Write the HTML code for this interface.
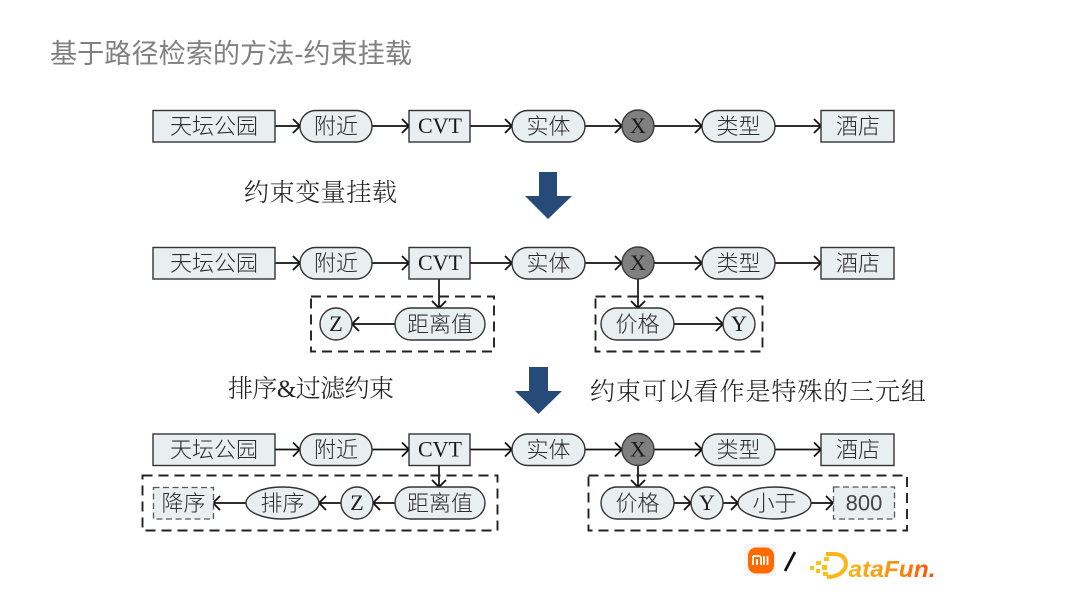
<!DOCTYPE html>
<html><head><meta charset="utf-8"><style>
html,body{margin:0;padding:0;background:#fff;width:1080px;height:608px;overflow:hidden}
svg{display:block}
.s{fill:#e9eef1;stroke:#333;stroke-width:1.4}
.l{stroke:#111;stroke-width:1.7;fill:none}
.h{stroke:#111;stroke-width:1.8;fill:none}
.d{fill:none;stroke:#222;stroke-width:1.9;stroke-dasharray:10 6}
.dn{fill:#e9eef1;stroke:#555;stroke-width:1.3;stroke-dasharray:6 3.5}
text{font-family:"Liberation Sans","Noto Sans CJK SC",sans-serif;fill:#2b2b2b;text-anchor:middle;font-size:22px;font-weight:300}
.e{font-family:"Liberation Serif",serif;font-size:22px;fill:#1a1a1a}
.t{font-family:"Liberation Serif","Noto Serif CJK SC",serif;font-size:25px;text-anchor:start;fill:#222}
</style></head><body>
<svg width="1080" height="608" viewBox="0 0 1080 608" xmlns="http://www.w3.org/2000/svg">
<defs>
<g id="ar"><path class="h" d="M-7 -7 L0 0 L-7 7"/></g>
<linearGradient id="df" x1="0" x2="1" y1="0" y2="0"><stop offset="0" stop-color="#fbb516"/><stop offset="0.55" stop-color="#fb8f10"/><stop offset="1" stop-color="#fb4a0a"/></linearGradient>
</defs>
<text x="50" y="63" textLength="362" lengthAdjust="spacingAndGlyphs" style="font-size:27px;text-anchor:start;fill:#808080;font-weight:400">基于路径检索的方法-约束挂载</text>

<!-- row 1 -->
<g>
<path class="l" d="M275 126H299M372 126H408M470 126H511M585 126H621M654 126H701M775 126H820"/>
<use href="#ar" x="300" y="126"/><use href="#ar" x="409" y="126"/><use href="#ar" x="512" y="126"/><use href="#ar" x="622" y="126"/><use href="#ar" x="702" y="126"/><use href="#ar" x="821" y="126"/>
<rect class="s" x="153" y="110.500" width="122" height="31.500"/>
<rect class="s" x="300" y="110.500" width="72" height="31.500" rx="15.700"/>
<rect class="s" x="409" y="110.500" width="61" height="31.500"/>
<rect class="s" x="512" y="110.500" width="73" height="31.500" rx="15.700"/>
<circle cx="638" cy="126" r="16" fill="#7f7f7f" stroke="#3a3a3a" stroke-width="1.4"/>
<rect class="s" x="702" y="110.500" width="73" height="31.500" rx="15.700"/>
<rect class="s" x="821" y="110.500" width="73" height="31.500"/>
<text x="214" y="134">天坛公园</text><text x="336" y="134">附近</text><text x="440" y="133" class="e">CVT</text><text x="548.500" y="134">实体</text><text x="638" y="133" class="e">X</text><text x="738.500" y="134">类型</text><text x="858" y="134">酒店</text>
</g>

<!-- row 2 -->
<g>
<path class="l" d="M275 263H299M372 263H408M470 263H511M585 263H621M654 263H701M775 263H820M439 279V307M638 279V307M395 324H353M674 324H722"/>
<use href="#ar" x="300" y="263"/><use href="#ar" x="409" y="263"/><use href="#ar" x="512" y="263"/><use href="#ar" x="622" y="263"/><use href="#ar" x="702" y="263"/><use href="#ar" x="821" y="263"/>
<use href="#ar" transform="translate(439 308) rotate(90)"/><use href="#ar" transform="translate(638 308) rotate(90)"/><use href="#ar" transform="translate(352 324) rotate(180)"/><use href="#ar" x="723" y="324"/>
<rect class="d" x="311" y="296.500" width="183" height="55"/>
<rect class="d" x="595.500" y="296.500" width="167" height="55"/>
<rect class="s" x="153" y="247.500" width="122" height="31.500"/>
<rect class="s" x="300" y="247.500" width="72" height="31.500" rx="15.700"/>
<rect class="s" x="409" y="247.500" width="61" height="31.500"/>
<rect class="s" x="512" y="247.500" width="73" height="31.500" rx="15.700"/>
<circle cx="638" cy="263" r="16" fill="#7f7f7f" stroke="#3a3a3a" stroke-width="1.4"/>
<rect class="s" x="702" y="247.500" width="73" height="31.500" rx="15.700"/>
<rect class="s" x="821" y="247.500" width="73" height="31.500"/>
<circle class="s" cx="336" cy="324" r="16"/>
<rect class="s" x="395" y="308" width="90" height="32" rx="16"/>
<rect class="s" x="601" y="308" width="73" height="32" rx="16"/>
<circle class="s" cx="739" cy="324" r="16"/>
<text x="214" y="271">天坛公园</text><text x="336" y="271">附近</text><text x="440" y="270" class="e">CVT</text><text x="548.500" y="271">实体</text><text x="638" y="270" class="e">X</text><text x="738.500" y="271">类型</text><text x="858" y="271">酒店</text>
<text x="336" y="331" class="e">Z</text><text x="440" y="332">距离值</text><text x="637.500" y="332">价格</text><text x="739" y="331" class="e">Y</text>
</g>

<!-- row 3 -->
<g>
<path class="l" d="M275 449.500H299M372 449.500H408M470 449.500H511M585 449.500H621M654 449.500H701M775 449.500H820M439 465V486M638 465V486M395 503H374M341 503H320M246 503H214M674 503H690M723 503H737M811 503H832"/>
<use href="#ar" x="300" y="449.500"/><use href="#ar" x="409" y="449.500"/><use href="#ar" x="512" y="449.500"/><use href="#ar" x="622" y="449.500"/><use href="#ar" x="702" y="449.500"/><use href="#ar" x="821" y="449.500"/>
<use href="#ar" transform="translate(439 487) rotate(90)"/><use href="#ar" transform="translate(638 487) rotate(90)"/>
<use href="#ar" transform="translate(373 503) rotate(180)"/><use href="#ar" transform="translate(319 503) rotate(180)"/><use href="#ar" transform="translate(213 503) rotate(180)"/>
<use href="#ar" x="691" y="503"/><use href="#ar" x="738" y="503"/><use href="#ar" x="833" y="503"/>
<rect class="d" x="142.500" y="475.500" width="355" height="55"/>
<rect class="d" x="588.500" y="475.500" width="318.500" height="55"/>
<rect class="s" x="153" y="434" width="122" height="31.500"/>
<rect class="s" x="300" y="434" width="72" height="31.500" rx="15.700"/>
<rect class="s" x="409" y="434" width="61" height="31.500"/>
<rect class="s" x="512" y="434" width="73" height="31.500" rx="15.700"/>
<circle cx="638" cy="449.500" r="16" fill="#7f7f7f" stroke="#3a3a3a" stroke-width="1.4"/>
<rect class="s" x="702" y="434" width="73" height="31.500" rx="15.700"/>
<rect class="s" x="821" y="434" width="73" height="31.500"/>
<rect class="dn" x="153.500" y="487.500" width="60" height="31.500"/>
<ellipse class="s" cx="282.500" cy="503" rx="36.500" ry="16"/>
<circle class="s" cx="357" cy="503" r="16"/>
<rect class="s" x="395" y="487" width="90" height="32" rx="16"/>
<rect class="s" x="601" y="487" width="73" height="32" rx="16"/>
<circle class="s" cx="707" cy="503" r="16"/>
<ellipse class="s" cx="774.500" cy="503" rx="36.500" ry="16"/>
<rect class="dn" x="833.500" y="487" width="61" height="32"/>
<text x="214" y="457.500">天坛公园</text><text x="336" y="457.500">附近</text><text x="440" y="456.500" class="e">CVT</text><text x="548.500" y="457.500">实体</text><text x="638" y="456.500" class="e">X</text><text x="738.500" y="457.500">类型</text><text x="858" y="457.500">酒店</text>
<text x="183.500" y="511">降序</text><text x="282.500" y="511">排序</text><text x="357" y="510" class="e">Z</text><text x="440" y="511">距离值</text><text x="637.500" y="511">价格</text><text x="707" y="510" class="e">Y</text><text x="774.500" y="511">小于</text><text x="864" y="510.500" style="fill:#444">800</text>
</g>

<!-- big arrows -->
<path d="M539 172H557V196H572L548 219L525 196H539Z" fill="#274b78"/>
<path d="M529 367H548V391H562L538.500 414L515 391H529Z" fill="#274b78"/>

<!-- captions -->
<text class="t" x="244" y="201" textLength="153">约束变量挂载</text>
<text class="t" x="228" y="397" textLength="166">排序&amp;过滤约束</text>
<text class="t" x="590" y="400" textLength="336">约束可以看作是特殊的三元组</text>

<!-- logos -->
<rect x="744" y="544" width="32" height="32" fill="#f5f5f5"/>
<rect x="748" y="547.500" width="26" height="26" rx="8" fill="#ff6a00"/>
<path d="M753 556h6a2 2 0 0 1 2 2v7M753 556v9M757 559v6M764 556v9M767.500 556v9" stroke="#fff" stroke-width="1.800" fill="none"/>
<path d="M785 571L795 552" stroke="#111" stroke-width="2.800"/>
<g fill="#f9c21a"><rect x="810" y="566" width="4" height="4"/><rect x="816" y="561" width="5" height="4"/><rect x="816" y="569" width="4" height="4"/><rect x="822" y="565" width="5" height="5"/><rect x="824" y="557" width="5" height="4"/><rect x="823" y="572" width="5" height="4"/></g>
<path d="M826 554H834C847 554 849 566 842 572C838 576 832 577 827 577" fill="none" stroke="#fbb516" stroke-width="4"/>
<text x="892" y="577" textLength="87" lengthAdjust="spacingAndGlyphs" style="font-family:'Liberation Sans',sans-serif;font-style:italic;font-weight:700;font-size:23px;fill:url(#df)">ataFun.</text>
</svg>
</body></html>
